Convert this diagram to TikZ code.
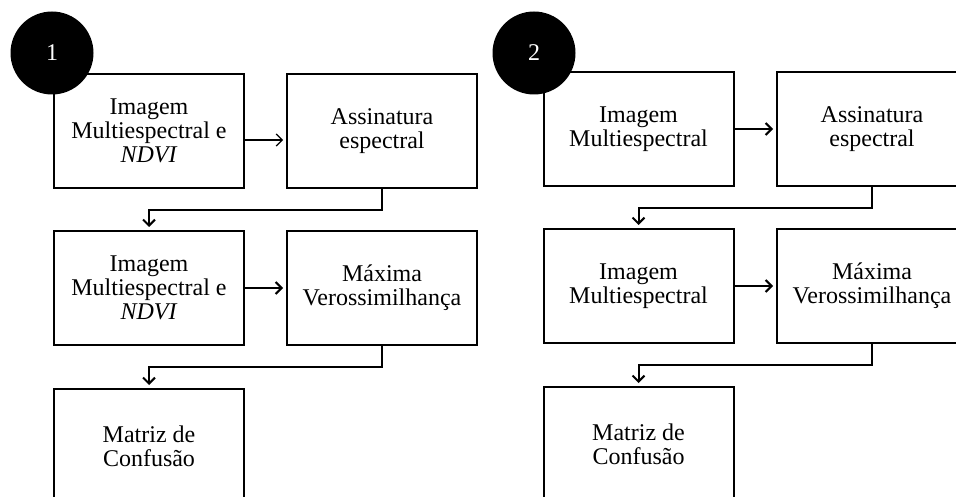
\documentclass[tikz,border=0pt]{standalone}
\usepackage{fontspec}
\setmainfont{Liberation Serif}
\usetikzlibrary{arrows.meta,positioning}

\begin{document}
\begin{tikzpicture}[x=1pt,y=1pt,>={Straight Barb[length=6pt,width=12pt]},
  stage/.style={draw,line width=2pt,minimum width=190pt,minimum height=114pt,
    align=center,inner sep=0pt,font=\fontsize{24}{24}\selectfont},
  link/.style={->,line width=2pt,shorten >=3pt},
  badge/.style={circle,fill=black,minimum size=83pt,inner sep=0pt,
    text=white,font=\fontsize{24}{24}\selectfont}]
  \useasboundingbox (0,0) rectangle (956,-497);
  \clip (0,0) rectangle (956,-497);

  % Flow 1: multispectral image and NDVI.
  \node[stage] (img1) at (149,-131) {Imagem\\Multiespectral e\\\textit{NDVI}};
  \node[stage] (sig1) at (382,-131) {Assinatura\\espectral};
  \node[stage] (cls1) at (149,-288) {Imagem\\Multiespectral e\\\textit{NDVI}};
  \node[stage] (mv1) at (382,-288) {Máxima\\Verossimilhança};
  \node[stage] (conf1) at (149,-446) {Matriz de\\Confusão};
  \node[badge] (num1) at (52,-53) {1};

  \draw[link,line width=1.2pt] ([yshift=-9pt]img1.east) -- ([yshift=-9pt]sig1.west);
  \draw[link] (sig1.south) -- ++(0,-21) -| (cls1.north);
  \draw[link] (cls1) -- (mv1);
  \draw[link] (mv1.south) -- ++(0,-21) -| (conf1.north);

  % Flow 2: multispectral image only.
  \node[stage] (img2) at (638.5,-129) {Imagem\\Multiespectral};
  \node[stage] (sig2) at (872,-129) {Assinatura\\espectral};
  \node[stage] (cls2) at (638.5,-286) {Imagem\\Multiespectral};
  \node[stage] (mv2) at (872,-286) {Máxima\\Verossimilhança};
  \node[stage] (conf2) at (638.5,-444) {Matriz de\\Confusão};
  \node[badge] (num2) at (534,-53) {2};

  \draw[link] (img2) -- (sig2);
  \draw[link] (sig2.south) -- ++(0,-21) -| (cls2.north);
  \draw[link] (cls2) -- (mv2);
  \draw[link] (mv2.south) -- ++(0,-21) -| (conf2.north);
\end{tikzpicture}
\end{document}
